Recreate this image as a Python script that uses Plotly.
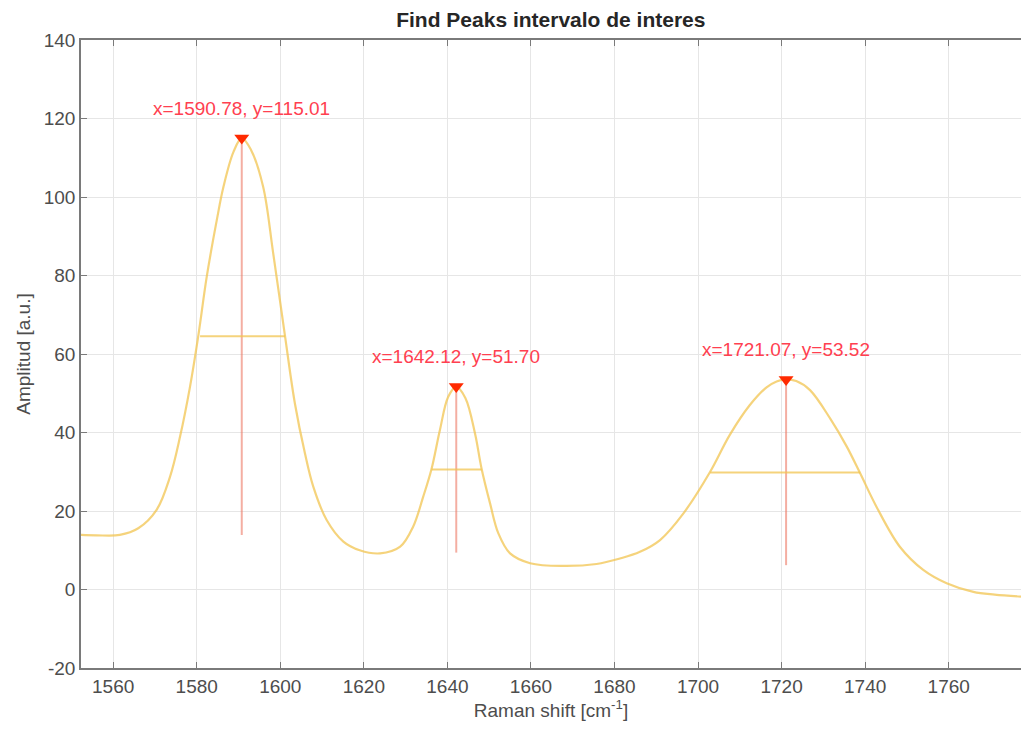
import plotly.graph_objects as go

# Spectrum
raman_shift = [1552.3, 1556.0, 1561.6, 1566.0, 1570.4, 1573.6, 1576.0, 1578.4, 1580.4, 1582.4,
               1584.8, 1586.4, 1588.8, 1590.78, 1593.0, 1595.9, 1598.3, 1601.1, 1603.5, 1605.9,
               1607.9, 1611.1, 1615.1, 1619.0, 1623.9, 1628.7, 1631.8, 1634.2, 1636.2, 1638.2,
               1640.2, 1642.12, 1644.3, 1646.6, 1648.2, 1650.2, 1652.2, 1655.0, 1659.8, 1667.7,
               1675.7, 1681.3, 1686.1, 1690.9, 1696.5, 1702.9, 1707.6, 1712.4, 1716.4, 1718.8,
               1721.07, 1723.5, 1726.8, 1731.6, 1735.6, 1738.8, 1742.7, 1748.3, 1753.9, 1759.5,
               1765.9, 1771.0, 1777.3]
amplitude = [13.9, 13.8, 13.9, 15.6, 20.3, 28.7, 38.9, 51.7, 64.8, 79.7,
             94.1, 102.6, 111.5, 115.01, 112.0, 102.6, 85.7, 64.8, 47.4, 34.7,
             26.2, 17.7, 12.2, 10.0, 9.2, 10.9, 16.0, 23.6, 30.7, 40.6,
             49.1, 51.7, 48.8, 39.8, 30.7, 22.0, 14.3, 9.2, 6.7, 6.0,
             6.5, 7.9, 9.6, 12.6, 19.4, 30.0, 39.4, 47.0, 51.5, 53.0,
             53.52, 53.1, 50.8, 43.6, 36.4, 29.6, 21.1, 10.9, 5.0, 1.6,
             -0.6, -1.3, -1.8]

# Peaks
peak_x = [1590.78, 1642.12, 1721.07]
peak_y = [115.01, 51.70, 53.52]
peak_base = [13.9, 9.4, 6.2]
width_left = [1580.8, 1636.2, 1702.9]
width_right = [1601.1, 1648.2, 1738.8]
width_height = [64.5, 30.6, 29.8]

x_ticks = [1560, 1580, 1600, 1620, 1640, 1660, 1680, 1700, 1720, 1740, 1760]
y_ticks = [-20, 0, 20, 40, 60, 80, 100, 120, 140]
y_tick_labels = ["-20", "0", "20", "40", "60", "80", "100", "120", "140"]

CURVE = "rgba(242,196,80,0.75)"
STEM = "rgba(236,120,100,0.6)"
FONT = "Liberation Sans, Arial, sans-serif"
TXT = "#4D4D4D"

fig = go.Figure()

# stems
sx, sy = [], []
for px, py, pb in zip(peak_x, peak_y, peak_base):
    sx += [px, px, None]
    sy += [py, pb, None]
fig.add_trace(go.Scatter(x=sx, y=sy, mode="lines", line=dict(color=STEM, width=2),
                         hoverinfo="skip", showlegend=False))

# curve
fig.add_trace(go.Scatter(x=raman_shift, y=amplitude, mode="lines",
                         line=dict(color=CURVE, width=2.2, shape="spline", smoothing=1.0),
                         showlegend=False))

# width lines
wx, wy = [], []
for l, r, h in zip(width_left, width_right, width_height):
    wx += [l, r, None]
    wy += [h, h, None]
fig.add_trace(go.Scatter(x=wx, y=wy, mode="lines", line=dict(color=CURVE, width=2),
                         hoverinfo="skip", showlegend=False))

# peak markers
fig.add_trace(go.Scatter(x=peak_x, y=peak_y, mode="markers",
                         marker=dict(symbol="triangle-down", size=13, color="#FF2A00",
                                     line=dict(width=0)),
                         showlegend=False))

for px, py in zip(peak_x, peak_y):
    fig.add_annotation(x=px, y=py, text=f"x={px:.2f}, y={py:.2f}", showarrow=False,
                       yshift=30, font=dict(family=FONT, size=19, color="#FF4050"))

axis_common = dict(showgrid=True, gridcolor="#E6E6E6", gridwidth=1, zeroline=False,
                   showline=True, linecolor="#7A7A7A", linewidth=1.5,
                   ticks="inside", ticklen=6, tickcolor="#7A7A7A",
                   tickfont=dict(family=FONT, size=19, color=TXT))

fig.update_xaxes(range=[1552.3, 1777.3], tickvals=x_ticks, mirror="ticks",
                 title=dict(text="Raman shift [cm<sup>-1</sup>]", standoff=8,
                            font=dict(family=FONT, size=19, color=TXT)),
                 **axis_common)
fig.update_yaxes(range=[-20, 140], tickvals=y_ticks, ticktext=y_tick_labels,
                 title=dict(text="Amplitud [a.u.]", standoff=8,
                            font=dict(family=FONT, size=19, color=TXT)),
                 **axis_common)

fig.update_layout(
    width=1021, height=738,
    margin=dict(l=81, r=0, t=40, b=70),
    paper_bgcolor="white", plot_bgcolor="white",
    title=dict(text="<b>Find Peaks intervalo de interes</b>", x=0.5395, xanchor="center",
               y=0.973, yanchor="middle",
               font=dict(family=FONT, size=21, color="#262626")),
)

fig.write_html("out.html")
